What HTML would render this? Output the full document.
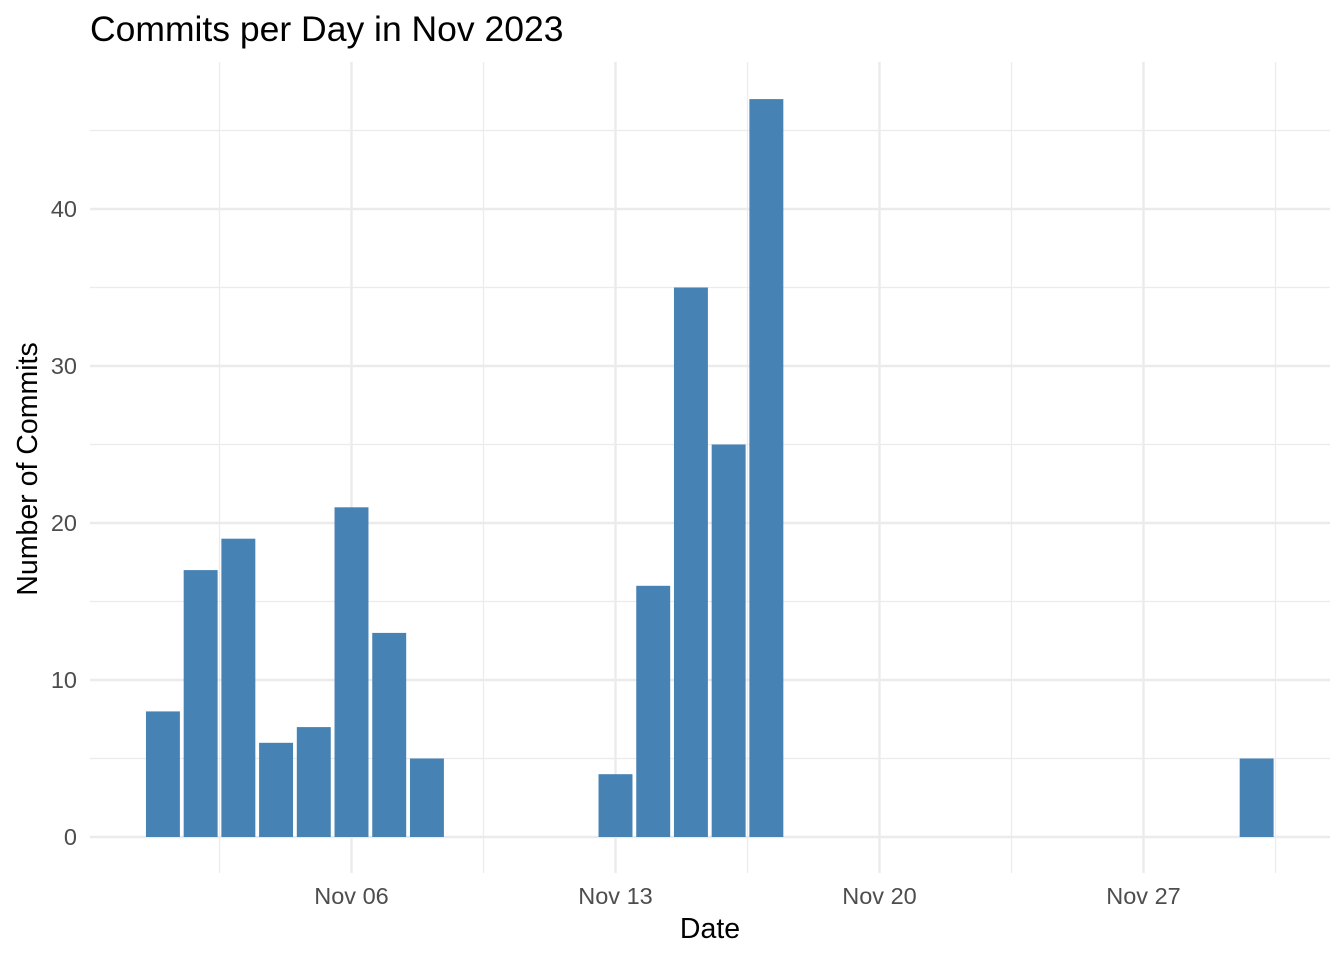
<!DOCTYPE html>
<html><head><meta charset="utf-8"><style>
body{margin:0;background:#fff;font-family:"Liberation Sans",sans-serif;}
</style></head><body>
<svg id="c" width="1344" height="960" xmlns="http://www.w3.org/2000/svg">
<text x="90" y="41" font-size="35.5" fill="#000">Commits per Day in Nov 2023</text>
<text x="710" y="938" font-size="28.5" text-anchor="middle" fill="#000">Date</text>
<text transform="translate(37,469) rotate(-90)" font-size="28.5" text-anchor="middle" fill="#000">Number of Commits</text>
<g id="grid"></g><g id="bars"></g><g id="ticks"></g>
</svg>
<script>
const days=[1,2,3,4,5,6,7,8,13,14,15,16,17,30];
const commits=[8,17,19,6,7,21,13,5,4,16,35,25,47,5];
const yTicks=[0,10,20,30,40];
const yMinor=[5,15,25,35,45];
const xTickDays=[6,13,20,27];
const xTickLabels=["Nov 06","Nov 13","Nov 20","Nov 27"];
const xMinorDays=[2.5,9.5,16.5,23.5,30.5];
const NS="http://www.w3.org/2000/svg";
const L=90,R=1330,T=62,B=873;
const dayW=(615-351)/7;
function x(d){return 351.5+(d-6)*dayW;}
function y(v){return 837-v*15.7;}
const grid=document.getElementById('grid'),bars=document.getElementById('bars'),ticks=document.getElementById('ticks');
function line(x1,y1,x2,y2,w,name){const l=document.createElementNS(NS,'line');l.setAttribute('x1',x1);l.setAttribute('y1',y1);l.setAttribute('x2',x2);l.setAttribute('y2',y2);l.setAttribute('stroke','#ebebeb');l.setAttribute('stroke-width',w);


grid.appendChild(l);}
yMinor.forEach(v=>line(L,y(v),R,y(v),1.2,'y-minor-gridline'));
xMinorDays.forEach(d=>line(x(d),T,x(d),B,1.2,'x-minor-gridline'));
yTicks.forEach(v=>line(L,y(v),R,y(v),2.4,'y-major-gridline'));
xTickDays.forEach(d=>line(x(d),T,x(d),B,2.4,'x-major-gridline'));
days.forEach((d,i)=>{const r=document.createElementNS(NS,'rect');const w=dayW*0.9;
r.setAttribute('x',x(d)-w/2);r.setAttribute('width',w);r.setAttribute('y',y(commits[i]));r.setAttribute('height',y(0)-y(commits[i]));r.setAttribute('fill','#4682b4');


bars.appendChild(r);});
function txt(s,xx,yy,anchor,name){const t=document.createElementNS(NS,'text');t.textContent=s;t.setAttribute('x',xx);t.setAttribute('y',yy);t.setAttribute('text-anchor',anchor);t.setAttribute('font-size','23.5');t.setAttribute('fill','#4d4d4d');


ticks.appendChild(t);}
yTicks.forEach(v=>txt(String(v),77,y(v)+8,'end','y-tick-label'));
xTickDays.forEach((d,i)=>txt(xTickLabels[i],x(d),904,'middle','x-tick-label'));
</script>
</body></html>
